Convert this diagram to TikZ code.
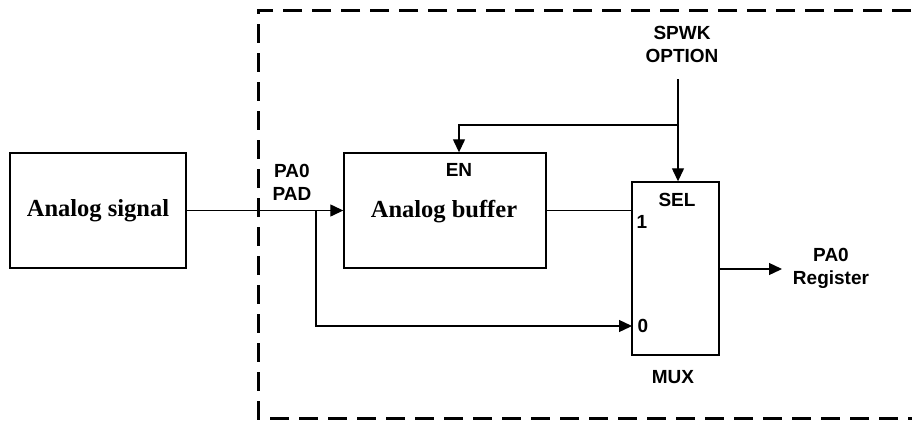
\documentclass[tikz,border=0pt]{standalone}
\usepackage{fontspec}
\setmainfont{Liberation Serif}
\setsansfont{Liberation Sans}
\usetikzlibrary{arrows.meta}

\tikzset{
  blk/.style={draw, line width=1.4pt, inner sep=0pt},
  big/.style={font=\bfseries\fontsize{24.5}{26}\selectfont},
  lbl/.style={font=\sffamily\bfseries\fontsize{19}{23}\selectfont, align=center, inner sep=0pt},
  wire/.style={line width=1.3pt},
  sig/.style={wire, -{Triangle[length=13pt,width=12pt]}},
}

\begin{document}
\begin{tikzpicture}[x=1pt, y=-1pt]
  \useasboundingbox (0,0) rectangle (912,421);
  % chip boundary, open to the right
  \begin{scope}
    \clip (0,0) rectangle (912,421);
    \draw[line width=3pt, dash pattern=on 19pt off 10pt] (940,10) -- (258,10) -- (258,418) -- (940,418);
  \end{scope}
  \node[blk, big, minimum width=176pt, minimum height=115pt] (src) at (98,210.5) {Analog signal};
  \node[blk, minimum width=202pt, minimum height=115pt] (buf) at (445,210.5) {};
  \node[big] (buftxt) at (444,212) {Analog buffer};
  \node[lbl] (en) at (459,170) {EN};
  \node[blk, minimum width=87pt, minimum height=173pt] (mux) at (675.5,268.5) {};
  \node[lbl] (sel) at (677,200) {SEL};
  \node[lbl] (one) at (642,222) {1};
  \node[lbl] (zero) at (643,326) {0};
  \node[lbl] (muxname) at (673,377) {MUX};
  \node[lbl] (pad) at (292,182) {PA0\\PAD};
  \node[lbl] (spwk) at (682,44) {SPWK\\OPTION};
  \node[lbl] (reg) at (831,268.5) {PA0\\Register};
  % taps
  \coordinate (tap) at (316,210.5);
  \coordinate (opt) at (678,79);
  \coordinate (split) at (678,125);
  \coordinate (in0) at (632,326);
  \coordinate (out) at (782,269);
  % connectors
  \draw[sig] (src.east) -- (buf.west);
  \draw[sig] (tap) |- (in0);
  \draw[wire] (buf.east) -- (buf.east -| mux.west);
  \draw[sig] (opt) -- (opt |- mux.north);
  \draw[sig] (split) -| (en |- buf.north);
  \draw[sig] (mux.east |- out) -- (out);
\end{tikzpicture}
\end{document}
